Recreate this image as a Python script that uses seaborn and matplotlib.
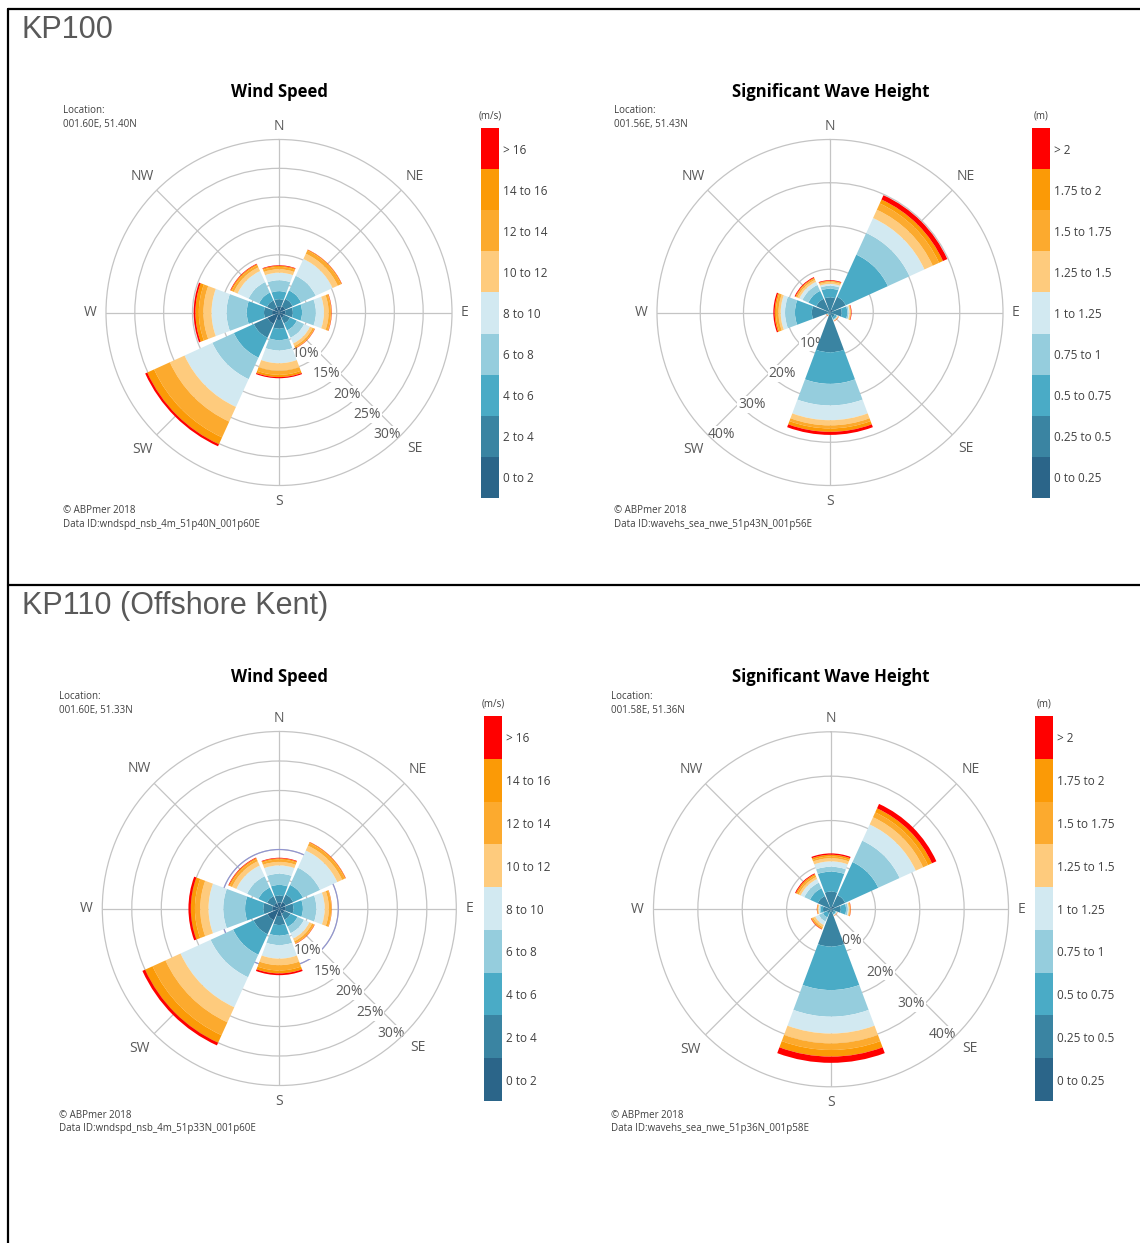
import numpy as np
import matplotlib
matplotlib.use("Agg")
import matplotlib.pyplot as plt
import seaborn as sns
from matplotlib.colors import ListedColormap
from matplotlib.lines import Line2D

sns.set_theme(style="white")
plt.rcParams['font.family'] = ['Open Sans', 'DejaVu Sans']

# ---------------------------------------------------------------- data
directions = ['N', 'NE', 'E', 'SE', 'S', 'SW', 'W', 'NW']
wind_bins = ['0 to 2', '2 to 4', '4 to 6', '6 to 8', '8 to 10',
             '10 to 12', '12 to 14', '14 to 16', '> 16']
wave_bins = ['0 to 0.25', '0.25 to 0.5', '0.5 to 0.75', '0.75 to 1', '1 to 1.25',
             '1.25 to 1.5', '1.5 to 1.75', '1.75 to 2', '> 2']
band_colors = ['#2b6589', '#3a84a2', '#4aabc6', '#95cddd', '#d2e9f1',
               '#fecb7d', '#fcaa2e', '#fb9a06', '#ff0000']

# frequency (%) per direction (rows N..NW) and per class (columns, low -> high)
kp100_wind = [
    [1.0, 1.3, 1.4, 1.9, 1.3, 0.6, 0.4, 0.2, 0.1],
    [1.2, 1.4, 1.6, 2.8, 3.2, 1.0, 0.6, 0.15, 0.05],
    [1.1, 1.3, 1.6, 2.4, 1.4, 0.8, 0.4, 0.1, 0.05],
    [1.0, 1.1, 1.3, 1.4, 1.1, 0.5, 0.3, 0.1, 0.05],
    [1.3, 1.5, 2.0, 1.8, 2.2, 1.3, 0.7, 0.4, 0.2],
    [2.2, 2.6, 3.8, 4.1, 5.3, 2.8, 3.0, 1.3, 0.4],
    [1.2, 1.4, 3.0, 3.5, 2.6, 1.4, 0.8, 0.6, 0.3],
    [1.0, 1.3, 1.5, 2.0, 2.1, 0.7, 0.4, 0.2, 0.1],
]
kp100_wave = [
    [0.3, 3.2, 2.0, 0.7, 0.4, 0.4, 0.2, 0.15, 0.15],
    [0.8, 3.2, 10.7, 5.5, 3.8, 2.1, 1.6, 1.0, 1.1],
    [0.2, 2.5, 1.3, 0.3, 0.2, 0.2, 0.1, 0.1, 0.1],
    [0.1, 1.1, 0.5, 0.2, 0.1, 0.1, 0.05, 0.05, 0.05],
    [0.5, 8.7, 7.3, 5.0, 3.4, 1.2, 0.7, 0.8, 0.7],
    [0.05, 0.35, 0.2, 0.1, 0.05, 0.05, 0.05, 0.05, 0.05],
    [0.3, 3.9, 3.9, 2.3, 1.0, 0.5, 0.6, 0.3, 0.3],
    [0.3, 3.2, 2.0, 1.5, 0.8, 0.5, 0.3, 0.2, 0.2],
]
kp110_wind = [
    [1.0, 1.2, 1.8, 1.9, 1.4, 0.6, 0.4, 0.2, 0.1],
    [1.2, 1.4, 1.8, 3.2, 3.2, 0.9, 0.5, 0.15, 0.05],
    [1.1, 1.3, 1.6, 2.3, 1.4, 0.7, 0.4, 0.08, 0.02],
    [1.0, 1.1, 1.3, 1.2, 1.0, 0.5, 0.35, 0.1, 0.05],
    [1.3, 1.5, 1.8, 1.6, 2.3, 1.1, 0.9, 0.5, 0.3],
    [2.2, 2.6, 3.8, 4.2, 5.6, 2.8, 2.4, 1.4, 0.5],
    [1.2, 1.5, 3.1, 3.7, 2.5, 1.4, 0.9, 0.7, 0.4],
    [1.0, 1.3, 1.6, 2.1, 2.0, 0.8, 0.4, 0.2, 0.1],
]
kp110_wave = [
    [0.3, 3.7, 4.5, 1.1, 1.2, 0.7, 0.4, 0.4, 0.3],
    [0.8, 2.7, 8.2, 5.3, 4.0, 1.8, 1.2, 1.0, 1.1],
    [0.2, 2.0, 1.2, 0.4, 0.2, 0.2, 0.15, 0.1, 0.05],
    [0.1, 0.7, 0.4, 0.2, 0.1, 0.05, 0.05, 0.02, 0.03],
    [0.5, 7.9, 9.8, 6.0, 3.8, 2.2, 1.5, 1.5, 1.4],
    [0.1, 0.9, 1.0, 1.0, 0.9, 0.5, 0.3, 0.2, 0.1],
    [0.2, 1.6, 0.5, 0.3, 0.2, 0.15, 0.1, 0.1, 0.05],
    [0.3, 3.0, 1.9, 1.4, 0.9, 0.5, 0.4, 0.3, 0.2],
]

wind_rings = [5, 10, 15, 20, 25, 30]
wave_rings = [10, 20, 30, 40]

# ---------------------------------------------------------------- figure
W, H = 1140, 1243
fig = plt.figure(figsize=(W / 100, H / 100), dpi=100)
fig.patch.set_facecolor('white')

GRID = '#c4c4c4'
TXT = '#595959'
DARK = '#404040'


def fx(x):
    return x / W


def fy(y):
    return 1 - y / H


label_ratio = [1.075, 1.11, 1.075, 1.11, 1.09, 1.12, 1.09, 1.115]


def draw_rose(cx, cy, rpx, freqs, rings, label_side, marked_ring=None):
    ax = fig.add_axes([fx(cx - rpx), fy(cy + rpx), 2 * rpx / W, 2 * rpx / H],
                      projection='polar')
    ax.set_theta_zero_location('N')
    ax.set_theta_direction(-1)
    rmax = rings[-1]
    ax.set_ylim(0, rmax)
    theta = np.deg2rad(np.arange(len(directions)) * 45.0)
    f = np.asarray(freqs, dtype=float)
    bottom = np.zeros(len(directions))
    for k in range(f.shape[1]):
        ax.bar(theta, f[:, k], width=np.deg2rad(41), bottom=bottom,
               color=band_colors[k], linewidth=0, zorder=3)
        bottom += f[:, k]
    ax.set_xticks(theta)
    ax.set_xticklabels([])
    ax.set_yticks(rings[:-1])
    ax.set_yticklabels([])
    ax.grid(True, color=GRID, lw=0.9)
    ax.spines['polar'].set_color(GRID)
    ax.spines['polar'].set_linewidth(0.9)
    ax.set_facecolor('white')
    if marked_ring is not None:
        circ = np.linspace(0, 2 * np.pi, 361)
        ax.plot(circ, np.full_like(circ, marked_ring), color='#9094d2',
                lw=0.8, zorder=2.2)
    for t, d, q in zip(theta, directions, label_ratio):
        ax.text(t, rmax * q, d, ha='center', va='center', fontsize=10,
                color=TXT, clip_on=False)
    ang = np.deg2rad(135 if label_side == 'right' else 225)
    for r in rings[1:] if rmax == 30 else rings:
        ax.text(ang, r, f'{r}%', ha=label_side, va='center', fontsize=10,
                color=TXT, zorder=2.5,
                bbox=dict(facecolor='white', edgecolor='none', pad=0.6))
    return ax


def draw_key(x0, y0, x1, y1, labels, unit):
    ax = fig.add_axes([fx(x0), fy(y1), (x1 - x0) / W, (y1 - y0) / H])
    codes = np.arange(len(labels))[::-1].reshape(-1, 1)
    sns.heatmap(codes, cmap=ListedColormap(band_colors), vmin=-0.5, vmax=8.5,
                cbar=False, ax=ax, xticklabels=False,
                yticklabels=labels[::-1], linewidths=0)
    ax.yaxis.tick_right()
    ax.tick_params(axis='y', length=0, pad=3, labelsize=8.5, labelcolor=DARK)
    plt.setp(ax.get_yticklabels(), rotation=0, ha='left')
    fig.text(fx((x0 + x1) / 2), fy(y0 - 12), unit, ha='center', va='center',
             fontsize=7, color=DARK)


def panel_text(x_title, y_title, title, x_left, y_loc, loc, y_foot, data_id):
    fig.text(fx(x_title), fy(y_title), title, ha='center', va='center',
             fontsize=12, fontweight='bold', color='black')
    fig.text(fx(x_left), fy(y_loc), 'Location:', ha='left', va='center',
             fontsize=7, color=DARK)
    fig.text(fx(x_left), fy(y_loc + 14), loc, ha='left', va='center',
             fontsize=7, color=DARK)
    fig.text(fx(x_left), fy(y_foot), '\u00a9 ABPmer 2018', ha='left',
             va='center', fontsize=7, color=DARK)
    fig.text(fx(x_left), fy(y_foot + 14), 'Data ID:' + data_id, ha='left',
             va='center', fontsize=7, color=DARK)


# KP100
draw_rose(279, 312.5, 173, kp100_wind, wind_rings, 'right')
draw_key(481, 128, 499, 498, wind_bins, '(m/s)')
panel_text(279, 92, 'Wind Speed', 63, 110.5, '001.60E, 51.40N', 510.5,
           'wndspd_nsb_4m_51p40N_001p60E')

draw_rose(830, 312.5, 173, kp100_wave, wave_rings, 'left')
draw_key(1032, 128, 1050, 498, wave_bins, '(m)')
panel_text(830.5, 92, 'Significant Wave Height', 614, 110.5, '001.56E, 51.43N',
           510.5, 'wavehs_sea_nwe_51p43N_001p56E')

# KP110
draw_rose(279.3, 908.5, 177, kp110_wind, wind_rings, 'right', marked_ring=10)
draw_key(484, 716, 502, 1101, wind_bins, '(m/s)')
panel_text(279, 677.5, 'Wind Speed', 59, 696.5, '001.60E, 51.33N', 1115,
           'wndspd_nsb_4m_51p33N_001p60E')

draw_rose(831, 909.3, 177.5, kp110_wave, wave_rings, 'right')
draw_key(1035, 716, 1053, 1101, wave_bins, '(m)')
panel_text(830.7, 677.5, 'Significant Wave Height', 611, 696.5, '001.58E, 51.36N',
           1115, 'wavehs_sea_nwe_51p36N_001p58E')

# section headings and table rules
head_font = ['Liberation Sans', 'DejaVu Sans']
fig.text(fx(22), fy(30), 'KP100', ha='left', va='center', fontsize=22,
         color=TXT, family=head_font)
fig.text(fx(22), fy(606), 'KP110 (Offshore Kent)', ha='left', va='center',
         fontsize=22, color=TXT, family=head_font)
for xs, ys in [((8, 1140), (9, 9)), ((8, 8), (9, 1243)), ((8, 1140), (585, 585))]:
    fig.add_artist(Line2D([fx(xs[0]), fx(xs[1])], [fy(ys[0]), fy(ys[1])],
                          color='black', lw=1.6, transform=fig.transFigure))

fig.savefig('out.png', dpi=100, facecolor='white')
